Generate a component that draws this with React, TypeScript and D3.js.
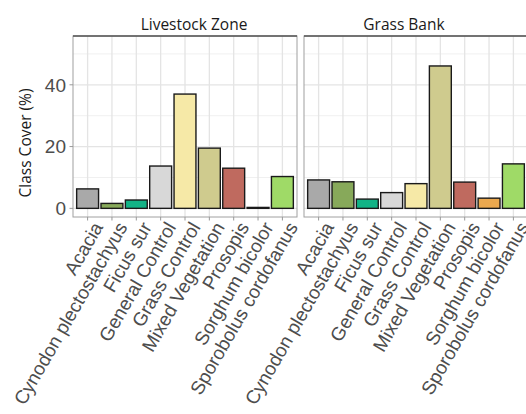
import React from "react";
import * as d3 from "d3";

const categories = [
  "Acacia",
  "Cynodon plectostachyus",
  "Ficus sur",
  "General Control",
  "Grass Control",
  "Mixed Vegetation",
  "Prosopis",
  "Sorghum bicolor",
  "Sporobolus cordofanus",
];
const colors = [
  "#a9a9a9",
  "#87a95a",
  "#12b386",
  "#d8d8d8",
  "#f6e9a7",
  "#cfcb8e",
  "#bf6a5f",
  "#eaa84f",
  "#9fda67",
];
const livestockValues = [6.3, 1.6, 2.7, 13.7, 37.0, 19.5, 13.0, 0.3, 10.3];
const grassBankValues = [9.2, 8.6, 3.0, 5.1, 8.0, 46.1, 8.5, 3.3, 14.4];
const panelTitles = ["Livestock Zone", "Grass Bank"];
const yTicks = [0, 20, 40];
const yMinor = [10, 30, 50];

const W = 526;
const H = 414;
const panelTop = 36;
const panelBottom = 217;
const panelW = 224;
const panelLefts = [73, 304];
const titleX = [194, 404];

export default function App() {
  const y = d3.scaleLinear().domain([-2.8, 55.8]).range([panelBottom, panelTop]);
  const panels = [livestockValues, grassBankValues];
  const tickFont = "'Liberation Sans', Arial, sans-serif";
  const titleFont = "'Open Sans', sans-serif";
  return (
    <svg width={W} height={H} style={{ position: "absolute", left: 0, top: 0, background: "#fff" }}>
      <rect x={0} y={0} width={W} height={H} fill="#fff" />
      {panels.map((vals, pi) => {
        const left = panelLefts[pi];
        const x = d3.scalePoint<string>().domain(categories).range([left, left + panelW]).padding(0.6);
        const bw = x.step() * 0.9;
        return (
          <g key={pi}>
            <clipPath id={`clip${pi}`}>
              <rect x={left} y={panelTop} width={panelW} height={panelBottom - panelTop} />
            </clipPath>
            <g clipPath={`url(#clip${pi})`}>
              {yMinor.map((t) => (
                <line key={"m" + t} x1={left} x2={left + panelW} y1={y(t)} y2={y(t)} stroke="#f0f0f0" strokeWidth={1} />
              ))}
              {yTicks.map((t) => (
                <line key={"M" + t} x1={left} x2={left + panelW} y1={y(t)} y2={y(t)} stroke="#e4e4e4" strokeWidth={1.3} />
              ))}
              {categories.map((c) => (
                <line key={"v" + c} x1={x(c)} x2={x(c)} y1={panelTop} y2={panelBottom} stroke="#e4e4e4" strokeWidth={1.3} />
              ))}
              {vals.map((v, i) => (
                <rect
                  key={categories[i]}
                  x={(x(categories[i]) as number) - bw / 2}
                  y={y(v)}
                  width={bw}
                  height={y(0) - y(v)}
                  fill={colors[i]}
                  stroke="#1a1a1a"
                  strokeWidth={1.4}
                />
              ))}
            </g>
            <rect x={left} y={panelTop} width={panelW} height={panelBottom - panelTop} fill="none" stroke="#a0a0a0" strokeWidth={1} />
            <line x1={left} x2={left + panelW} y1={panelTop} y2={panelTop} stroke="#555" strokeWidth={1.3} />
            <text x={titleX[pi]} y={29.5} textAnchor="middle" fontFamily={titleFont} fontSize={15.5} fill="#1a1a1a">
              {panelTitles[pi]}
            </text>
            {categories.map((c) => (
              <g key={"t" + c}>
                <line x1={x(c)} x2={x(c)} y1={panelBottom} y2={panelBottom + 3.5} stroke="#999" strokeWidth={1} />
                <text
                  transform={`translate(${(x(c) as number) + 16},${227}) rotate(-60)`}
                  textAnchor="end"
                  fontFamily={tickFont}
                  fontSize={19}
                  fill="#4d4d4d"
                >
                  {c}
                </text>
              </g>
            ))}
          </g>
        );
      })}
      {yTicks.map((t) => (
        <g key={"yt" + t}>
          <line x1={69.5} x2={73} y1={y(t)} y2={y(t)} stroke="#999" strokeWidth={1} />
          <text x={66} y={y(t)} dy="0.36em" textAnchor="end" fontFamily={tickFont} fontSize={19} fill="#4d4d4d">
            {t}
          </text>
        </g>
      ))}
      <text
        transform={`translate(31,143) rotate(-90)`}
        textAnchor="middle"
        fontFamily={titleFont}
        fontSize={15.5}
        fill="#1a1a1a"
      >
        Class Cover (%)
      </text>
    </svg>
  );
}
